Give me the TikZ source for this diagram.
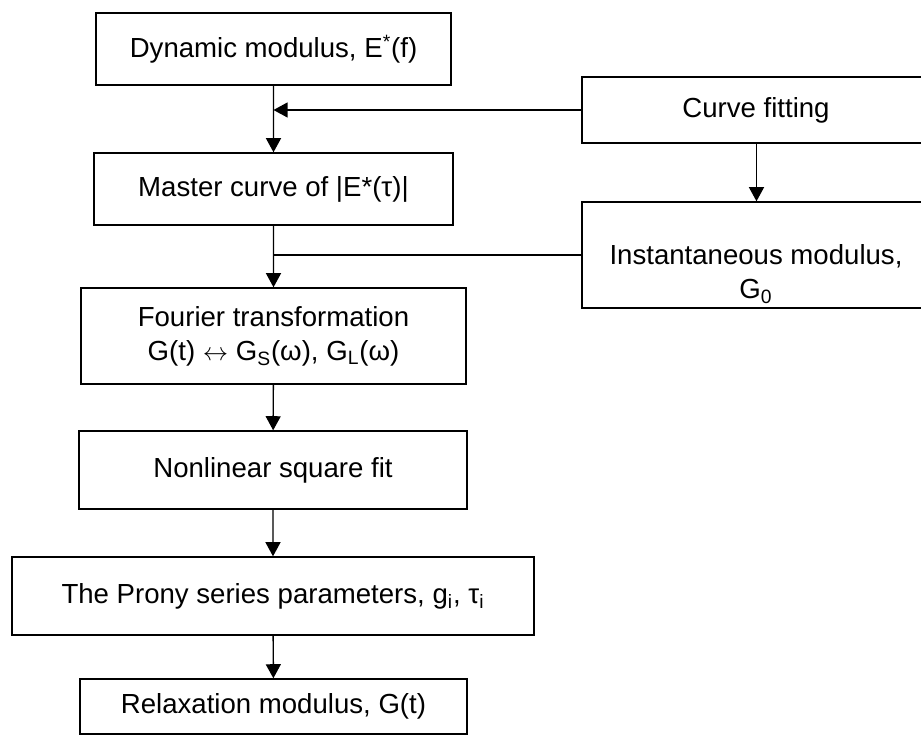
\documentclass[tikz,border=0pt]{standalone}
\usepackage{fontspec}
\setmainfont{Liberation Sans}
\usetikzlibrary{arrows.meta}
\begin{document}
\begin{tikzpicture}[scale=0.2]
\tikzstyle{every node}+=[inner sep=0pt]
\tikzstyle{flowbox}=[draw=black, line width=0.8pt, rectangle, align=center, font=\fontsize{15.7pt}{19.5pt}\selectfont]
\tikzstyle{flowline}=[black, line width=0.8pt]
\tikzstyle{flowarrow}=[flowline, -{Triangle[length=8pt, width=8.5pt]}]
\useasboundingbox (0,0) rectangle (92.1,-73.6);
% main column
\node [flowbox, minimum width=7.1cm, minimum height=1.44cm] (dyn) at (27.35,-4.9) {Dynamic modulus, E\textsuperscript{*}(f)};
\node [flowbox, minimum width=7.18cm, minimum height=1.44cm] (master) at (27.35,-18.9) {Master curve of |E*(τ)|};
\node [flowbox, minimum width=7.7cm, minimum height=1.92cm] (fourier) at (27.35,-33.6) {Fourier transformation\\G(t) $\leftrightarrow$ G\textsubscript{S}(ω), G\textsubscript{L}(ω)};
\node [flowbox, minimum width=7.76cm, minimum height=1.56cm] (nonlin) at (27.3,-47.0) {Nonlinear square fit};
\node [flowbox, minimum width=10.44cm, minimum height=1.56cm] (prony) at (27.3,-59.6) {The Prony series parameters, g\textsubscript{i}, τ\textsubscript{i}};
\node [flowbox, minimum width=7.74cm, minimum height=1.1cm] (relax) at (27.35,-70.65) {Relaxation modulus, G(t)};
% right column
\node [flowbox, minimum width=7.2cm, minimum height=1.32cm] (curve) at (76.2,-11.0) {\hspace*{-0.24cm}Curve fitting};
\node [flowbox, minimum width=7.2cm, minimum height=2.12cm] (inst) at (76.2,-25.5) {\rule{0pt}{33pt}Instantaneous modulus,\hspace*{0.24cm}\\G\textsubscript{0}\hspace*{0.24cm}};
\coordinate (fit) at (75.65,-11.0);
% connectors
\draw [flowarrow] (dyn) -- (master);
\draw [flowarrow] (curve.west) -- (curve.west -| dyn.south);
\draw [flowarrow] (fit |- curve.south) -- (fit |- inst.north);
\draw [flowarrow] (master) -- (fourier);
\draw [flowline] (inst.west) -- (inst.west -| master.south);
\draw [flowarrow] (fourier) -- (nonlin);
\draw [flowarrow] (nonlin) -- (prony);
\draw [flowarrow] (prony) -- (relax);
\end{tikzpicture}
\end{document}
